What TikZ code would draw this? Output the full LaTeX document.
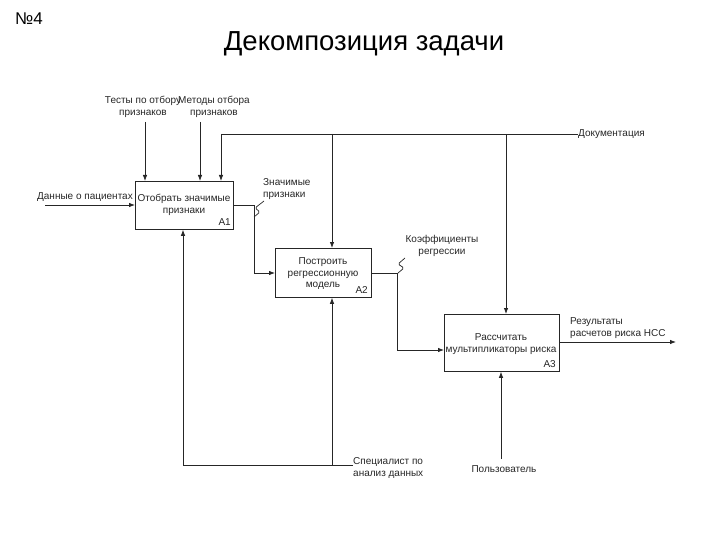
\documentclass[tikz,border=0pt]{standalone}
\usepackage{fontspec}
\setmainfont{Liberation Sans}
\usetikzlibrary{arrows.meta}
\begin{document}
\begin{tikzpicture}[x=1pt,y=-1pt,
  line/.style={draw=black!85, line width=0.8pt},
  arr/.style={line, -{Latex[length=6pt,width=4.5pt]}},
  box/.style={draw=black!85, line width=0.8pt, inner sep=0pt, anchor=north west},
  lbl/.style={font=\fontsize{10}{11.5}\selectfont, align=center, inner sep=0pt, text=black!85},
  squig/.style={draw=black!85, line width=0.7pt, rounded corners=1.5pt}]
\useasboundingbox (0,0) rectangle (720,540);
% titles
\node[anchor=west, inner sep=0pt, font=\fontsize{17}{20}\selectfont] (num) at (15,19) {№4};
\node[inner sep=0pt, font=\fontsize{27.5}{32}\selectfont] (title) at (364,44) {Декомпозиция задачи};
% boxes
\node[box, minimum width=98pt, minimum height=48pt] (a1) at (135,181) {};
\node[box, minimum width=96pt, minimum height=49pt] (a2) at (275,248) {};
\node[box, minimum width=115pt, minimum height=57pt] (a3) at (444,314) {};
\node[lbl] (a1t) at (184,205) {Отобрать значимые\\признаки};
\node[lbl, anchor=south east] (a1n) at (231,226) {A1};
\node[lbl] (a2t) at (323,274) {Построить\\регрессионную\\модель};
\node[lbl, anchor=south east] (a2n) at (368,294) {A2};
\node[lbl] (a3t) at (501,344) {Рассчитать\\мультипликаторы риска};
\node[lbl, anchor=south east] (a3n) at (556,368) {A3};
% labels
\node[lbl, anchor=east] (inp) at (133,197) {Данные о пациентах};
\node[lbl] (tests) at (143,107) {Тесты по отбору\\признаков};
\node[lbl] (meth) at (214,107) {Методы отбора\\признаков};
\node[lbl, anchor=west] (doc) at (578,134) {Документация};
\node[lbl, anchor=west, align=left] (sig) at (263,189) {Значимые\\признаки};
\node[lbl] (coef) at (442,246) {Коэффициенты\\регрессии};
\node[lbl, anchor=west, align=left] (res) at (570,328) {Результаты\\расчетов риска НСС};
\node[lbl, anchor=west, align=left] (spec) at (353,468) {Специалист по\\анализ данных};
\node[lbl] (user) at (504,469) {Пользователь};
% coordinates
\coordinate (inS) at (45,205);
\coordinate (tS) at (145,122);
\coordinate (mS) at (200,122);
\coordinate (d1) at (221,134);
\coordinate (d2) at (332,134);
\coordinate (d3) at (506,134);
\coordinate (o1) at (254,205);
\coordinate (o1b) at (254,273);
\coordinate (o2) at (397,273);
\coordinate (o2b) at (397,350);
\coordinate (outS) at (559,342);
\coordinate (outE) at (676,342);
\coordinate (sp1) at (183,465);
\coordinate (sp2) at (332,465);
\coordinate (uS) at (501,459);
% input
\draw[arr] (inS) -- (inS -| a1.west);
% controls
\draw[arr] (tS) -- (tS |- a1.north);
\draw[arr] (mS) -- (mS |- a1.north);
\draw[line] (doc.west) -- (d1);
\draw[arr] (d1) -- (d1 |- a1.north);
\draw[arr] (d2) -- (d2 |- a2.north);
\draw[arr] (d3) -- (d3 |- a3.north);
% outputs
\draw[arr] (o1 -| a1.east) -- (o1) -- (o1b) -- (o1b -| a2.west);
\draw[squig] (254,217) -- (260,212) -- (255,208) -- (264,201);
\draw[arr] (o2 -| a2.east) -- (o2) -- (o2b) -- (o2b -| a3.west);
\draw[squig] (398,273) -- (404,268) -- (398,264) -- (405,258);
\draw[arr] (outS) -- (outE);
% mechanisms
\draw[line] (spec.west |- sp2) -- (sp1);
\draw[arr] (sp1) -- (sp1 |- a1.south);
\draw[arr] (sp2) -- (sp2 |- a2.south);
\draw[arr] (uS) -- (uS |- a3.south);
\end{tikzpicture}
\end{document}
